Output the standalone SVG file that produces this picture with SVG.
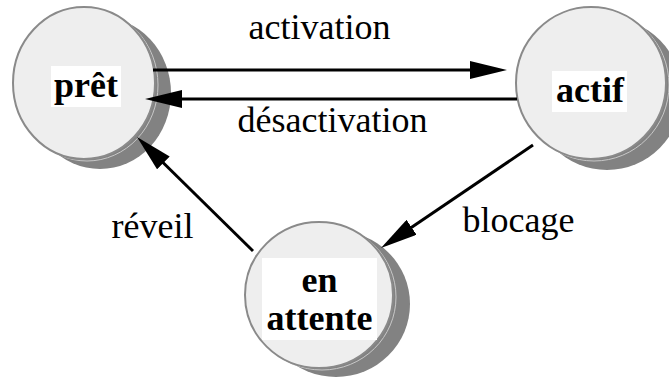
<svg xmlns="http://www.w3.org/2000/svg" width="669" height="379" viewBox="0 0 669 379">
<style>
.shadow{fill:#828282;stroke:none}
.rim{fill:none;stroke:#c8c8c8;stroke-width:1}
.disc{fill:#eeeeee;stroke:#8a8a8a;stroke-width:2}
.lab{fill:#ffffff;stroke:none}
.nt{font-family:"Liberation Serif","Times New Roman",serif;font-weight:bold;font-size:36px;fill:#000;text-anchor:middle}
.et{font-family:"Liberation Serif","Times New Roman",serif;font-size:36px;fill:#000;text-anchor:middle}
.conn line{stroke:#000;stroke-width:3;fill:none;marker-end:url(#ah)}
</style>
<defs>
<marker id="ah" markerUnits="userSpaceOnUse" viewBox="0 0 37 18" refX="7" refY="9" markerWidth="37" markerHeight="18" orient="auto">
<path d="M0,0 L37,9 L0,18 z" fill="#000"/>
</marker>
</defs>
<rect width="669" height="379" fill="#fff"/>
<g id="node-pret">
<ellipse class="shadow" cx="100" cy="93" rx="71" ry="76"/>
<ellipse class="rim" cx="87" cy="85" rx="71" ry="76"/>
<ellipse class="disc" cx="84" cy="83" rx="71" ry="76"/>
<rect class="lab" x="51" y="66" width="70" height="41"/>
<text class="nt" x="86" y="97">prêt</text>
</g>
<g id="node-actif">
<ellipse class="shadow" cx="607" cy="94" rx="75" ry="76"/>
<ellipse class="rim" cx="594" cy="85" rx="75" ry="76"/>
<ellipse class="disc" cx="591" cy="83" rx="75" ry="76"/>
<rect class="lab" x="552" y="71" width="75" height="41"/>
<text class="nt" x="590" y="102">actif</text>
</g>
<g id="node-attente">
<ellipse class="shadow" cx="336" cy="304" rx="74" ry="73"/>
<ellipse class="rim" cx="322" cy="297" rx="74" ry="73"/>
<ellipse class="disc" cx="319" cy="295" rx="74" ry="73"/>
<rect class="lab" x="262" y="258" width="115" height="82"/>
<text class="nt" x="319.5" y="292">en</text>
<text class="nt" x="319.5" y="330">attente</text>
</g>
<g id="connectors" class="conn">
<line x1="153" y1="70" x2="477" y2="70"/>
<line x1="517" y1="99" x2="175" y2="99"/>
<line x1="253" y1="251" x2="158.4" y2="158"/>
<line x1="533" y1="145" x2="405.8" y2="231.2"/>
</g>
<g id="edge-labels">
<text class="et" x="319.5" y="39">activation</text>
<text class="et" x="332.5" y="132">désactivation</text>
<text class="et" x="152.5" y="238">réveil</text>
<text class="et" x="518.5" y="232">blocage</text>
</g>
</svg>
